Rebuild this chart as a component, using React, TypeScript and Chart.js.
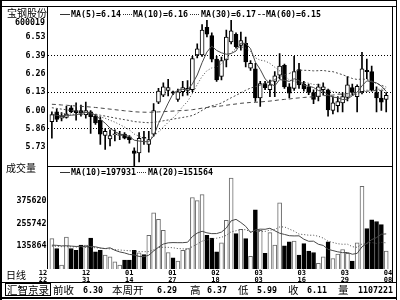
import React, { useEffect, useRef } from "react";
import { Chart, registerables } from "chart.js";

Chart.register(...registerables);

// ---------------- data ----------------
const dateTicks = [
  ["12", "22"], ["12", "31"], ["01", "14"], ["01", "27"], ["02", "18"],
  ["03", "03"], ["03", "16"], ["03", "29"], ["04", "08"],
];

const openP = [
  5.92, 5.99, 5.945, 5.95, 6.02, 6.0, 6.0, 5.97, 5.99, 5.96,
  5.93, 5.82, 5.795, 5.825, 5.82, 5.83, 5.81, 5.71, 5.695, 5.805,
  5.755, 5.83, 6.06, 6.11, 6.145, 6.135, 6.08, 6.135, 6.145, 6.15,
  6.4, 6.4, 6.6, 6.54, 6.37, 6.245, 6.365, 6.495, 6.55, 6.47,
  6.485, 6.305, 6.3, 6.09, 6.195, 6.15, 6.21, 6.255, 6.325, 6.17,
  6.16, 6.295, 6.19, 6.17, 6.13, 6.1, 6.15, 6.15, 6.0, 6.035,
  6.055, 6.095, 6.165, 6.1, 6.135, 6.29, 6.28, 6.13, 6.09, 6.08,
];
const highP = [
  5.99, 6.01, 5.985, 6.03, 6.035, 6.055, 6.04, 6.06, 6.0, 5.97,
  5.955, 5.87, 5.86, 5.86, 5.85, 5.84, 5.82, 5.73, 5.84, 5.85,
  5.85, 6.05, 6.16, 6.2, 6.225, 6.14, 6.155, 6.21, 6.215, 6.39,
  6.48, 6.62, 6.65, 6.56, 6.39, 6.385, 6.58, 6.65, 6.56, 6.565,
  6.53, 6.36, 6.34, 6.21, 6.21, 6.22, 6.28, 6.41, 6.335, 6.195,
  6.39, 6.34, 6.21, 6.19, 6.15, 6.19, 6.2, 6.155, 6.1, 6.1,
  6.13, 6.245, 6.19, 6.185, 6.42, 6.37, 6.32, 6.17, 6.14, 6.13,
];
const lowP = [
  5.8, 5.92, 5.925, 5.945, 5.985, 5.93, 5.96, 5.945, 5.835, 5.9,
  5.755, 5.72, 5.745, 5.78, 5.79, 5.795, 5.765, 5.6, 5.63, 5.755,
  5.7, 5.815, 6.05, 6.1, 6.105, 6.115, 6.065, 6.105, 6.11, 6.135,
  6.38, 6.39, 6.53, 6.35, 6.21, 6.22, 6.315, 6.48, 6.45, 6.435,
  6.315, 6.29, 6.065, 6.03, 6.15, 6.1, 6.1, 6.23, 6.16, 6.09,
  6.145, 6.16, 6.14, 6.115, 6.05, 6.07, 6.11, 5.96, 5.975, 5.99,
  5.99, 6.07, 6.11, 5.99, 6.12, 6.23, 6.14, 5.99, 6.0, 5.99,
];
const closeP = [
  5.97, 5.935, 5.96, 5.975, 5.99, 5.985, 5.985, 6.0, 5.955, 5.91,
  5.83, 5.85, 5.82, 5.83, 5.82, 5.8, 5.79, 5.69, 5.8, 5.8,
  5.79, 6.0, 6.14, 6.17, 6.165, 6.125, 6.135, 6.165, 6.16, 6.375,
  6.445, 6.58, 6.55, 6.37, 6.22, 6.36, 6.53, 6.575, 6.46, 6.505,
  6.35, 6.34, 6.09, 6.195, 6.165, 6.185, 6.25, 6.32, 6.17, 6.125,
  6.28, 6.185, 6.155, 6.13, 6.08, 6.17, 6.17, 6.005, 6.055, 6.065,
  6.1, 6.185, 6.13, 6.175, 6.3, 6.28, 6.15, 6.09, 6.06, 6.11,
];
// volume in thousands of lots
const volume = [
  175, 122, 34, 183, 122, 113, 140, 140, 178, 104,
  113, 87, 78, 51, 34, 60, 60, 113, 99, 90,
  192, 312, 277, 219, 101, 73, 55, 113, 122, 394,
  377, 409, 192, 178, 104, 152, 272, 497, 201, 224,
  175, 81, 328, 219, 96, 207, 140, 365, 136, 157,
  162, 87, 148, 108, 101, 43, 78, 157, 69, 92,
  117, 96, 55, 152, 453, 228, 275, 266, 249, 108,
];
const ma5 = [
  5.972, 5.965, 5.962, 5.964, 5.966, 5.969, 5.979, 5.987, 5.983, 5.967,
  5.936, 5.909, 5.873, 5.848, 5.83, 5.824, 5.812, 5.786, 5.78, 5.776,
  5.774, 5.816, 5.906, 5.98, 6.053, 6.12, 6.147, 6.152, 6.15, 6.192,
  6.256, 6.345, 6.422, 6.464, 6.433, 6.416, 6.406, 6.411, 6.429, 6.486,
  6.484, 6.446, 6.349, 6.296, 6.228, 6.195, 6.177, 6.223, 6.218, 6.21,
  6.229, 6.216, 6.183, 6.175, 6.166, 6.144, 6.141, 6.111, 6.096, 6.093,
  6.079, 6.082, 6.107, 6.131, 6.178, 6.214, 6.207, 6.199, 6.176, 6.138,
];
const ma10 = [
  5.985, 5.982, 5.979, 5.976, 5.974, 5.972, 5.971, 5.97, 5.969, 5.967,
  5.953, 5.944, 5.93, 5.916, 5.899, 5.88, 5.861, 5.83, 5.814, 5.803,
  5.799, 5.814, 5.846, 5.88, 5.915, 5.947, 5.982, 6.029, 6.065, 6.123,
  6.188, 6.246, 6.287, 6.307, 6.313, 6.336, 6.376, 6.417, 6.447, 6.46,
  6.45, 6.426, 6.38, 6.363, 6.357, 6.34, 6.312, 6.286, 6.257, 6.219,
  6.212, 6.197, 6.203, 6.197, 6.188, 6.187, 6.179, 6.147, 6.136, 6.13,
  6.112, 6.112, 6.109, 6.114, 6.136, 6.147, 6.145, 6.153, 6.154, 6.158,
];
const ma30 = [
  6.02, 6.015, 6.01, 6.005, 6.0, 5.995, 5.99, 5.985, 5.98, 5.974,
  5.966, 5.96, 5.953, 5.946, 5.94, 5.934, 5.928, 5.92, 5.917, 5.914,
  5.912, 5.915, 5.92, 5.926, 5.932, 5.938, 5.944, 5.95, 5.956, 5.964,
  5.98, 6.001, 6.021, 6.034, 6.042, 6.054, 6.073, 6.092, 6.109, 6.128,
  6.146, 6.162, 6.171, 6.183, 6.195, 6.208, 6.223, 6.244, 6.256, 6.267,
  6.283, 6.29, 6.29, 6.289, 6.286, 6.287, 6.289, 6.283, 6.28, 6.269,
  6.258, 6.245, 6.231, 6.224, 6.227, 6.224, 6.212, 6.195, 6.182, 6.169,
];
const ma60 = [
  6.045, 6.043, 6.04, 6.038, 6.035, 6.033, 6.03, 6.028, 6.025, 6.022,
  6.018, 6.014, 6.01, 6.006, 6.002, 5.998, 5.995, 5.991, 5.989, 5.988,
  5.987, 5.988, 5.99, 5.992, 5.994, 5.996, 5.998, 6.0, 6.002, 6.006,
  6.011, 6.017, 6.022, 6.026, 6.029, 6.033, 6.038, 6.043, 6.047, 6.052,
  6.055, 6.058, 6.059, 6.062, 6.065, 6.068, 6.072, 6.077, 6.08, 6.083,
  6.088, 6.091, 6.094, 6.097, 6.099, 6.103, 6.107, 6.108, 6.111, 6.117,
  6.119, 6.123, 6.126, 6.129, 6.134, 6.139, 6.142, 6.144, 6.145, 6.149,
];
const volMa10 = [
  140, 139, 136, 137, 135, 133, 134, 132, 133, 131.1,
  124.9, 121.4, 125.8, 112.6, 103.8, 98.5, 90.5, 87.8, 79.9, 78.5,
  86.4, 108.9, 128.8, 145.6, 152.3, 153.6, 153.1, 153.1, 155.4, 185.8,
  204.3, 214.0, 205.5, 201.4, 201.7, 209.6, 231.3, 269.7, 277.6, 260.6,
  240.4, 207.6, 221.2, 225.3, 224.5, 230.0, 216.8, 203.6, 197.1, 190.4,
  189.1, 189.7, 171.7, 160.6, 161.1, 144.7, 138.5, 117.7, 111.0, 104.5,
  100.0, 100.9, 91.6, 96.0, 131.2, 149.7, 169.4, 180.3, 198.3, 199.9,
];
const volMa20 = [
  135, 134, 132, 132, 131, 130, 129, 128, 128, 126,
  124, 122, 120, 117, 114, 112, 110, 108, 106, 104.8,
  105.7, 115.2, 127.3, 129.1, 128.1, 126.1, 121.8, 120.5, 117.7, 132.2,
  145.4, 161.5, 167.2, 173.5, 177.0, 181.6, 192.2, 211.4, 216.5, 223.2,
  222.4, 210.8, 213.4, 213.4, 213.1, 219.8, 224.0, 236.7, 237.4, 225.5,
  214.8, 198.7, 196.5, 193.0, 192.8, 187.4, 177.7, 160.7, 154.1, 147.5,
  144.6, 145.3, 131.7, 128.3, 146.2, 147.2, 154.0, 149.0, 154.7, 152.2,
];

const priceTickValues = [5.735, 5.8675, 6.0, 6.1325, 6.265, 6.3975, 6.53];
const priceTickLabels = ["5.73", "5.86", "6.00", "6.13", "6.26", "6.39", "6.53"];
const volTickValues = [135.864, 255.742, 375.62];
const volTickLabels = ["135864", "255742", "375620"];

const priceLegend = ["MA(5)=6.14", "MA(10)=6.16", "MA(30)=6.17", "MA(60)=6.15"];
const volLegend = ["MA(10)=197931", "MA(20)=151564"];
const stockName = "宝钢股份";
const stockCode = "600019";
const statLabels = ["前收", "本周开", "高", "低", "收", "量"];
const statValues = ["6.30", "6.29", "6.37", "5.99", "6.11", "1107221"];

// ---------------- frame decoration ----------------
const framePlugin = {
  id: "frame",
  afterDraw(chart: any) {
    const { ctx, chartArea: a } = chart;
    const sep = Math.round(chart.scales.y.bottom) + 0.5;
    ctx.save();
    ctx.strokeStyle = "#000";
    ctx.lineWidth = 1;
    const hl = (x1: number, x2: number, y: number) => {
      ctx.beginPath(); ctx.moveTo(x1, y); ctx.lineTo(x2, y); ctx.stroke();
    };
    const vl = (x: number, y1: number, y2: number) => {
      ctx.beginPath(); ctx.moveTo(x, y1); ctx.lineTo(x, y2); ctx.stroke();
    };
    const L = a.left - 0.5;
    const R = Math.round(a.right) - 0.5;
    const T = Math.round(a.top) - 0.5;
    hl(0, 397, 0.5);
    hl(0, 397, T);
    vl(0.5, 0, 300);
    vl(1.5, 0, 300);
    vl(396.5, 0, 300);
    vl(L, T, a.bottom);
    vl(R, T, 282.5);
    hl(L, R, sep);
    hl(0, 397, 282.5);
    hl(0, 397, 297.5);
    hl(0, 397, 298.5);
    ctx.strokeRect(5.5, 283.5, 45, 12);
    ctx.restore();
  },
};

const monoStyle: any = {
  fontFamily: '"DejaVu Sans Mono", monospace',
  fontWeight: "bold",
  fontSize: "8.3px",
  lineHeight: "10px",
};
const cjkStyle: any = {
  fontFamily: '"Noto Sans CJK SC", sans-serif',
  fontSize: "10.5px",
  lineHeight: "12px",
};
const at = (left: number, top: number, extra: any = {}) => ({
  position: "absolute",
  left,
  top,
  whiteSpace: "nowrap",
  color: "#000",
  ...extra,
});
const sample = (left: number, top: number, width: number, kind: string) => (
  <div
    style={{
      position: "absolute",
      left,
      top,
      width,
      height: 0,
      borderTop: `1px ${kind} #333`,
    }}
  />
);

export default function App() {
  const canvasRef = useRef<HTMLCanvasElement | null>(null);

  useEffect(() => {
    const canvas = canvasRef.current;
    if (!canvas) return;
    const up = closeP.map((c, i) => c >= openP[i]);
    const xy = (arr: number[]) => arr.map((v, i) => ({ x: i, y: v }));
    const monoFont = { family: '"DejaVu Sans Mono"', size: 8.3, weight: "bold" };
    const lineDs = (data: number[], axis: string, dash: number[]) => ({
      type: "line",
      data: xy(data),
      xAxisID: "x",
      yAxisID: axis,
      borderColor: "#484848",
      borderWidth: 1,
      borderDash: dash,
      pointRadius: 0,
      tension: 0,
      order: 0,
    });

    const chart = new Chart(canvas, {
      type: "bar",
      data: {
        datasets: [
          lineDs(ma5, "y", []),
          lineDs(ma10, "y", [1, 2]),
          lineDs(ma30, "y", [2, 2]),
          lineDs(ma60, "y", [4, 3]),
          lineDs(volMa10, "yv", []),
          lineDs(volMa20, "yv", [1, 2]),
          {
            type: "bar",
            data: openP.map((o, i) => ({ x: i, y: [o, closeP[i]] })),
            xAxisID: "x",
            yAxisID: "y",
            backgroundColor: up.map((u) => (u ? "#fff" : "#000")),
            borderColor: "#000",
            borderWidth: 1,
            borderSkipped: false,
            barThickness: 4,
            minBarLength: 1,
            grouped: false,
            order: 1,
          },
          {
            type: "bar",
            data: lowP.map((l, i) => ({ x: i, y: [l, highP[i]] })),
            xAxisID: "x",
            yAxisID: "y",
            backgroundColor: "#000",
            borderWidth: 0,
            barThickness: 1,
            grouped: false,
            order: 2,
          },
          {
            type: "bar",
            data: xy(volume),
            xAxisID: "x",
            yAxisID: "yv",
            backgroundColor: up.map((u) => (u ? "#fff" : "#000")),
            borderColor: up.map((u) => (u ? "#6a6a6a" : "#000")),
            borderWidth: 1,
            barThickness: 4,
            grouped: false,
            order: 3,
          },
        ],
      } as any,
      options: {
        responsive: false,
        animation: false,
        devicePixelRatio: 1,
        events: [],
        layout: { padding: { left: 0, right: 7, top: 5, bottom: 17 } },
        plugins: { legend: { display: false }, tooltip: { enabled: false } },
        scales: {
          x: {
            type: "linear",
            display: false,
            min: -0.8,
            max: 70.4,
            offset: false,
            grid: { display: false, offset: false },
          },
          xd: {
            type: "linear",
            position: "bottom",
            min: 0.116,
            max: 8.116,
            offset: false,
            afterBuildTicks: (s: any) => {
              s.ticks = dateTicks.map((_, k) => ({ value: k }));
            },
            afterFit: (s: any) => {
              s.height = 14;
            },
            grid: { display: false, drawTicks: false, offset: false },
            border: { display: false },
            ticks: {
              autoSkip: false,
              maxRotation: 0,
              padding: 1,
              color: "#000",
              font: { family: '"DejaVu Sans Mono"', size: 7, weight: "bold", lineHeight: 0.93 },
              callback: (_v: any, i: number) => dateTicks[i],
            },
          },
          y: {
            type: "linear",
            position: "left",
            stack: "panes",
            stackWeight: 160,
            weight: 2,
            min: 5.6,
            max: 6.743,
            afterBuildTicks: (s: any) => {
              s.ticks = priceTickValues.map((value) => ({ value }));
            },
            afterFit: (s: any) => {
              s.width = 48;
            },
            grid: {
              drawTicks: false,
              lineWidth: 1,
              color: (c: any) => (c.index % 2 === 1 ? "#000" : "rgba(0,0,0,0)"),
              borderDash: [1, 2],
            },
            border: { display: false, dash: [1, 2] },
            ticks: {
              padding: 2.5,
              color: "#000",
              font: monoFont,
              callback: (_v: any, i: number) => priceTickLabels[i],
            },
          },
          yv: {
            type: "linear",
            position: "left",
            stack: "panes",
            stackWeight: 104,
            weight: 1,
            min: 12.818,
            max: 562.036,
            afterBuildTicks: (s: any) => {
              s.ticks = volTickValues.map((value) => ({ value }));
            },
            afterFit: (s: any) => {
              s.width = 48;
            },
            grid: { display: false, drawTicks: false },
            border: { display: false },
            ticks: {
              padding: 1.5,
              color: "#000",
              font: monoFont,
              callback: (_v: any, i: number) => volTickLabels[i],
            },
          },
        },
      } as any,
      plugins: [framePlugin],
    });
    return () => chart.destroy();
  }, []);

  const statLabelX = [53, 112, 190, 238, 288, 338];
  const statValueRight = [103, 177, 227, 277, 327, 393];

  return (
    <div
      style={{
        position: "fixed",
        left: 0,
        top: 0,
        width: 400,
        height: 300,
        background: "#fff",
        overflow: "hidden",
      }}
    >
      <canvas
        ref={canvasRef}
        width={400}
        height={300}
        style={{ position: "absolute", left: 0, top: 0, width: 400, height: 300 }}
      />
      {/* left column */}
      <span style={at(7, 6.5, { ...cjkStyle, fontSize: "10px" })}>{stockName}</span>
      <span style={at(0, 17, { ...monoStyle, width: 45, textAlign: "right" })}>{stockCode}</span>
      <span style={at(6, 162, { ...cjkStyle, fontSize: "10px" })}>成交量</span>
      <span style={at(6, 268.5, { ...cjkStyle, fontSize: "10px" })}>日线</span>

      {/* price legend */}
      {sample(60, 13.5, 10, "solid")}
      <span style={at(71, 9, monoStyle)}>{priceLegend[0]}</span>
      {sample(123, 13.5, 9, "dotted")}
      <span style={at(133, 9, monoStyle)}>{priceLegend[1]}</span>
      {sample(190, 13.5, 9, "dotted")}
      <span style={at(201, 9, monoStyle)}>{priceLegend[2]}</span>
      {sample(258, 13.5, 7, "dashed")}
      <span style={at(266, 9, monoStyle)}>{priceLegend[3]}</span>

      {/* volume legend */}
      {sample(60, 171.5, 10, "solid")}
      <span style={at(71, 166.5, monoStyle)}>{volLegend[0]}</span>
      {sample(137, 171.5, 9, "dotted")}
      <span style={at(148, 166.5, monoStyle)}>{volLegend[1]}</span>

      {/* bottom bar */}
      <span style={at(7, 284, cjkStyle)}>汇智京录</span>
      {statLabels.map((t, k) => (
        <span key={"l" + k} style={at(statLabelX[k], 284, cjkStyle)}>
          {t}
        </span>
      ))}
      {statValues.map((t, k) => (
        <span
          key={"v" + k}
          style={at(0, 285, { ...monoStyle, width: statValueRight[k], textAlign: "right" })}
        >
          {t}
        </span>
      ))}
    </div>
  );
}
